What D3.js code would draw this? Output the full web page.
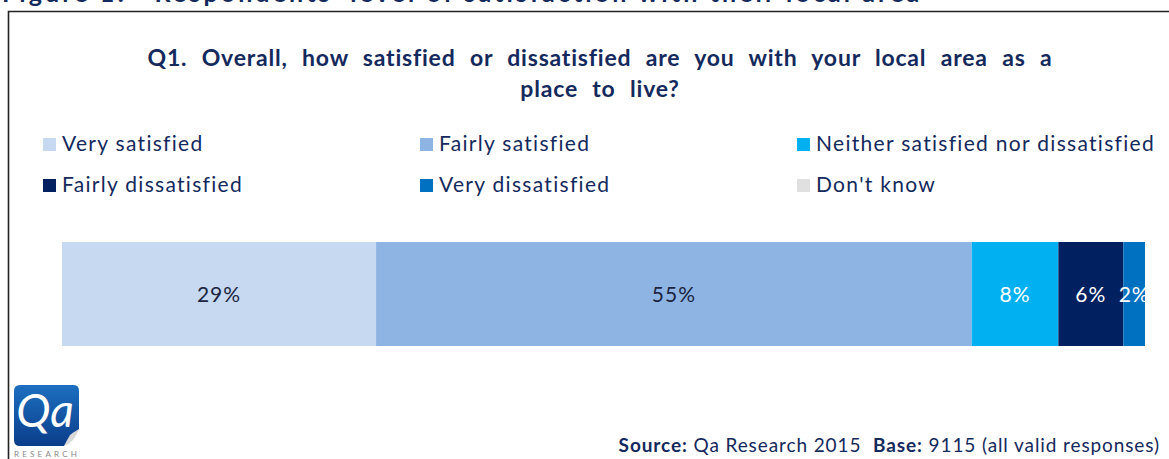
<!DOCTYPE html>
<html>
<head>
<meta charset="utf-8">
<script src="https://cdn.jsdelivr.net/npm/d3@7"></script>
<style>
  html, body { margin: 0; padding: 0; background: #fff; }
  svg { display: block; }
  text { font-family: "Lato", "Open Sans", sans-serif; }
</style>
</head>
<body>
<svg id="chart" width="1169" height="459"></svg>
<script>
// Response categories, share of respondents (%) and bar colours
const categories = ["Very satisfied", "Fairly satisfied", "Neither satisfied nor dissatisfied",
                    "Fairly dissatisfied", "Very dissatisfied", "Don't know"];
const shares = [29, 55, 8, 6, 2, 0];
const colours = ["#C6D9F1", "#8EB4E3", "#00B0F0", "#002060", "#0070C0", "#E0E0E0"];
const labelColours = ["#1b2440", "#1b2440", "#ffffff", "#ffffff", "#ffffff", "#1b2440"];
const titleLines = ["Q1. Overall, how satisfied or dissatisfied are you with your local area as a",
                    "place to live?"];
const figureCaption = "Figure 1:\u00A0\u00A0 Respondents' level of satisfaction with their local area";

const navy = "#14295c";
const svg = d3.select("#chart");

// Figure caption, running off the top edge of the page
svg.append("text")
  .attr("x", 2).attr("y", 2)
  .attr("font-size", 25).attr("font-weight", 700)
  .attr("letter-spacing", 3.1)
  .attr("fill", navy)
  .text(figureCaption);

// Panel frame (open at right and bottom)
svg.append("path")
  .attr("d", "M8.5,470 V11.5 H1180")
  .attr("fill", "none").attr("stroke", "#222").attr("stroke-width", 1.6);

// Chart title
svg.append("g").selectAll("text").data(titleLines).join("text")
  .attr("x", 600).attr("y", (d, i) => 66 + i * 31)
  .attr("text-anchor", "middle")
  .attr("font-size", 23).attr("font-weight", 700)
  .attr("letter-spacing", 0.8).attr("word-spacing", 8)
  .attr("fill", navy)
  .text(d => d);

// Legend: three columns, two rows
const legendCol = d3.scaleOrdinal().domain([0, 1, 2]).range([43, 420, 797]);
const legendRow = d3.scaleOrdinal().domain([0, 1]).range([144, 185]);
const legend = svg.append("g").selectAll("g").data(categories).join("g")
  .attr("transform", (d, i) => `translate(${legendCol(i % 3)},${legendRow(Math.floor(i / 3))})`);
legend.append("rect")
  .attr("x", 0).attr("y", -6).attr("width", 13).attr("height", 13)
  .attr("fill", (d, i) => colours[i]);
legend.append("text")
  .attr("x", 19).attr("y", 7)
  .attr("font-size", 21).attr("letter-spacing", 1.3)
  .attr("fill", navy)
  .text(d => d);

// Stacked horizontal bar
const x = d3.scaleLinear().domain([0, 100]).range([62, 1145]);
const y = d3.scaleBand().domain(["Q1"]).range([242, 346]).padding(0);
const starts = d3.cumsum([0, ...shares.slice(0, -1)]);
const segs = categories.map((c, i) => ({ cat: c, v: shares[i], s: starts[i], i }));

svg.append("g").selectAll("rect").data(segs.filter(d => d.v > 0)).join("rect")
  .attr("x", d => x(d.s))
  .attr("y", y("Q1"))
  .attr("width", d => x(d.s + d.v) - x(d.s))
  .attr("height", y.bandwidth())
  .attr("fill", d => colours[d.i]);

svg.append("g").selectAll("text").data(segs.filter(d => d.v > 0)).join("text")
  .attr("x", d => x(d.s + d.v / 2))
  .attr("y", y("Q1") + y.bandwidth() / 2 + 8)
  .attr("text-anchor", "middle")
  .attr("font-size", 21).attr("letter-spacing", 1)
  .attr("fill", d => labelColours[d.i])
  .text(d => d.v + "%");

// Source note
const note = svg.append("text")
  .attr("x", 1160).attr("y", 452)
  .attr("text-anchor", "end")
  .attr("font-size", 19).attr("letter-spacing", 0.9)
  .attr("fill", navy);
note.append("tspan").attr("font-weight", 700).text("Source:");
note.append("tspan").text("\u00A0Qa Research 2015\u00A0\u00A0");
note.append("tspan").attr("font-weight", 700).text("Base:");
note.append("tspan").text("\u00A09115 (all valid responses)");

// Qa Research logo
const logo = svg.append("g").attr("transform", "translate(14,385)");
const grad = svg.append("defs").append("linearGradient")
  .attr("id", "logoGrad").attr("x1", 0).attr("y1", 0).attr("x2", 0).attr("y2", 1);
grad.append("stop").attr("offset", "0%").attr("stop-color", "#1d6fc0");
grad.append("stop").attr("offset", "100%").attr("stop-color", "#0a3d8a");
logo.append("path")
  .attr("d", "M6,0 H60 Q65,0 65,6 V44 L50,61 H6 Q0,61 0,55 V6 Q0,0 6,0 Z")
  .attr("fill", "url(#logoGrad)");
logo.append("path")
  .attr("d", "M65,44 Q58,48 56,50 Q53,55 50,61 Q60,58 65,44 Z")
  .attr("fill", "#d8d8d8");
logo.append("text")
  .attr("x", 31).attr("y", 42)
  .attr("text-anchor", "middle")
  .attr("font-family", "Liberation Serif, serif")
  .attr("font-style", "italic")
  .attr("font-size", 46).attr("fill", "#fff")
  .text("Qa");
logo.append("text")
  .attr("x", 0).attr("y", 72)
  .attr("font-size", 8).attr("letter-spacing", 3.2)
  .attr("fill", "#8a8a8a")
  .text("RESEARCH");
</script>
</body>
</html>
